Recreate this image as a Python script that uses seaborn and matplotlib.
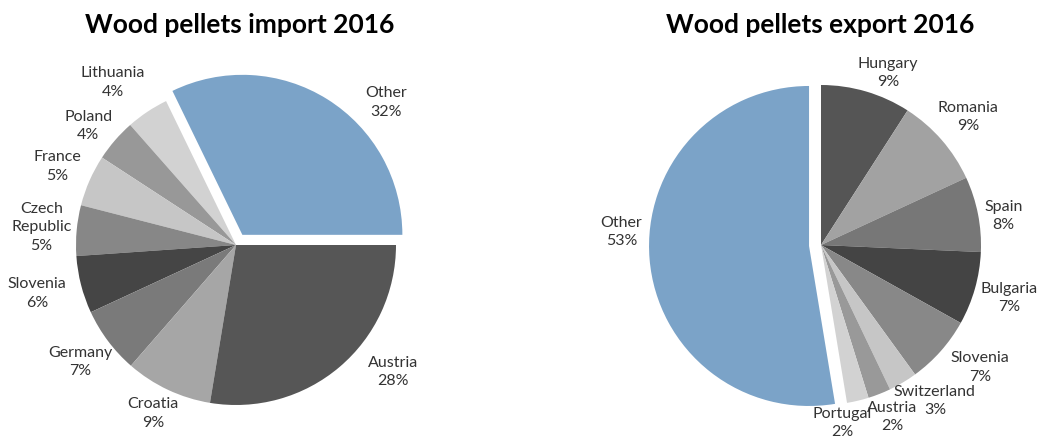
import numpy as np
import matplotlib
matplotlib.use("Agg")
import matplotlib.pyplot as plt
import seaborn as sns

sns.set_theme(style="white")
plt.rcParams['font.family'] = ['Lato', 'DejaVu Sans']

# Import 2016 (%, counter-clockwise from 3 o'clock)
imp_labels = ["Other", "Lithuania", "Poland", "France", "Czech\nRepublic",
              "Slovenia", "Germany", "Croatia", "Austria"]
imp_values = [32.2, 4.3, 4.3, 5.2, 5.1, 5.8, 6.7, 8.8, 27.6]
imp_colors = ["#7BA3C8", "#D2D2D2", "#989898", "#C6C6C6", "#878787",
              "#454545", "#7A7A7A", "#A6A6A6", "#565656"]

# Export 2016 (%, clockwise from 12 o'clock)
exp_labels = ["Hungary", "Romania", "Spain", "Bulgaria", "Slovenia",
              "Switzerland", "Austria", "Portugal", "Other"]
exp_values = [9.1, 9.0, 7.6, 7.4, 6.9, 2.9, 2.3, 2.2, 52.6]
exp_colors = ["#555555", "#A2A2A2", "#777777", "#444444", "#888888",
              "#C6C6C6", "#999999", "#D2D2D2", "#7BA3C8"]

# Layout-only label nudges (pixels: right, down)
imp_nudge = {"Other": (40, 33), "Austria": (31, -22), "Lithuania": (-15, 0),
             "Slovenia": (-10, 0), "Poland": (0, 9), "Croatia": (0, -8)}
exp_nudge = {"Hungary": (12, 15), "Spain": (-9, 9), "Slovenia": (13, -7),
             "Switzerland": (14, -12), "Austria": (0, -10), "Portugal": (-24, -12),
             "Other": (7, -30)}

W, H = 1041, 436
fig = plt.figure(figsize=(W / 100, H / 100), dpi=100)

R_PX = 160
SPAN = 1.45


def make_ax(cx, cy):
    half = R_PX * SPAN
    return fig.add_axes([(cx - half) / W, (H - cy - half) / H, 2 * half / W, 2 * half / H])


def draw(ax, values, labels, colors, startangle, counterclock, nudge):
    texts_lab = [f"{l}\n{round(v):d}%" for l, v in zip(labels, values)]
    explode = [0.075 if l == "Other" else 0 for l in labels]
    wedges, texts = ax.pie(values, labels=texts_lab, colors=colors, explode=explode,
                           startangle=startangle, counterclock=counterclock,
                           labeldistance=1.22, radius=1.0,
                           wedgeprops=dict(linewidth=0),
                           textprops=dict(fontsize=11.5, color="#333333", linespacing=1.4))
    for t, l in zip(texts, labels):
        t.set_ha("center")
        t.set_va("center")
        t.set_multialignment("center")
        dx, dy = nudge.get(l, (0, 0))
        x, y = t.get_position()
        t.set_position((x + dx / R_PX, y - dy / R_PX))
    ax.set_xlim(-SPAN, SPAN)
    ax.set_ylim(-SPAN, SPAN)
    ax.set_aspect("auto")
    ax.axis("off")
    return wedges, texts


ax1 = make_ax(236, 245)
draw(ax1, imp_values, imp_labels, imp_colors, 0, True, imp_nudge)

ax2 = make_ax(821, 245)
draw(ax2, exp_values, exp_labels, exp_colors, 90, False, exp_nudge)

fig.text(240 / W, 1 - 25 / H, "Wood pellets import 2016", ha="center", va="center",
         fontsize=19, fontweight="bold", color="#000000")
fig.text(820 / W, 1 - 25 / H, "Wood pellets export 2016", ha="center", va="center",
         fontsize=19, fontweight="bold", color="#000000")

fig.savefig("out.png", dpi=100, facecolor="white")
